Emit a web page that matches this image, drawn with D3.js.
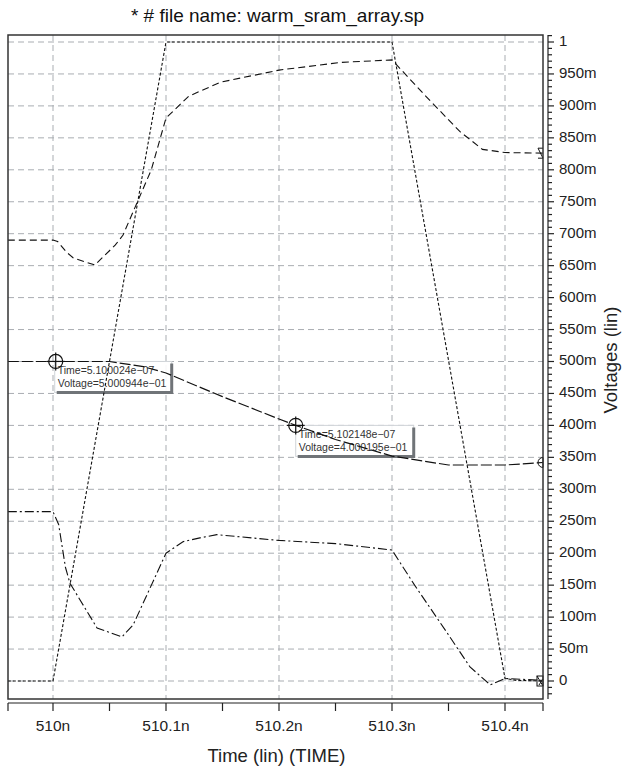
<!DOCTYPE html>
<html>
<head>
<meta charset="utf-8">
<script src="https://cdn.jsdelivr.net/npm/d3@7"></script>
<style>
  body { margin: 0; background: #fff; }
  svg { display: block; font-family: "Liberation Sans", Arial, sans-serif; }
</style>
</head>
<body>
<div id="chart"></div>
<script>
// time in ns, voltage in V
const xTicksMajor = [510.0, 510.1, 510.2, 510.3, 510.4];
const xTickLabels = ["510n", "510.1n", "510.2n", "510.3n", "510.4n"];
const xTicksMinor = [510.05, 510.15, 510.25, 510.35];
const yTicks = d3.range(0, 21).map(i => i / 20);
const yTickLabels = ["0", "50m", "100m", "150m", "200m", "250m", "300m", "350m", "400m", "450m",
  "500m", "550m", "600m", "650m", "700m", "750m", "800m", "850m", "900m", "950m", "1"];

// short-dash trace (input pulse)
const tA = [509.96, 510.0, 510.1, 510.3, 510.4, 510.41, 510.434];
const vA = [0, 0, 1, 1, 0.004, 0.001, 0.0];

// dashed trace
const tB = [509.96, 510.0, 510.004, 510.012, 510.018, 510.037, 510.055, 510.062, 510.087, 510.1,
  510.12, 510.148, 510.2, 510.254, 510.3, 510.33, 510.36, 510.38, 510.4, 510.434];
const vB = [0.690, 0.690, 0.688, 0.671, 0.662, 0.651, 0.682, 0.698, 0.800, 0.881,
  0.915, 0.937, 0.956, 0.968, 0.972, 0.915, 0.860, 0.832, 0.827, 0.826];

// long-dash trace (with cursors)
const tC = [509.96, 510.0, 510.05, 510.08, 510.1, 510.15, 510.2, 510.2148, 510.25, 510.3, 510.35, 510.4, 510.434];
const vC = [0.500, 0.500, 0.500, 0.492, 0.482, 0.445, 0.410, 0.400, 0.378, 0.352, 0.338, 0.338, 0.342];

// dash-dot trace
const tD = [509.96, 510.0, 510.005, 510.011, 510.015, 510.039, 510.061, 510.071, 510.1, 510.115,
  510.13, 510.145, 510.2, 510.25, 510.3, 510.32, 510.347, 510.369, 510.387, 510.4, 510.434];
const vD = [0.265, 0.265, 0.245, 0.178, 0.153, 0.083, 0.069, 0.088, 0.200, 0.218,
  0.224, 0.229, 0.220, 0.215, 0.205, 0.150, 0.080, 0.022, -0.006, 0.004, 0.001];

// cursor readouts
const cursorTime = [510.0024, 510.2148];
const cursorVolt = [0.5000944, 0.4000195];
const cursorText = [
  ["Time=5.100024e\u221207", "Voltage=5.000944e\u221201"],
  ["Time=5.102148e\u221207", "Voltage=4.000195e\u221201"]
];

const width = 626, height = 769;
const box = { left: 8, right: 543, top: 35, bottom: 699 };

const svg = d3.select("#chart").append("svg")
  .attr("width", width).attr("height", height);

const x = d3.scaleLinear()
  .domain([510 - 45 / 1130, 510 + 490 / 1130])
  .range([box.left, box.right]);
const y = d3.scaleLinear()
  .domain([-18 / 639, 1 + 7 / 639])
  .range([box.bottom, box.top]);

svg.append("defs").append("clipPath").attr("id", "clip")
  .append("rect")
  .attr("x", box.left).attr("y", box.top)
  .attr("width", box.right - box.left).attr("height", box.bottom - box.top);

// title
svg.append("text")
  .attr("x", (box.left + box.right) / 2 + 2).attr("y", 17)
  .attr("text-anchor", "middle").attr("dominant-baseline", "middle")
  .attr("font-size", 19).attr("fill", "#111")
  .text("* # file name: warm_sram_array.sp");

// grid
const grid = svg.append("g").attr("stroke", "#a9adb2").attr("stroke-width", 1).attr("stroke-dasharray", "6,4");
xTicksMajor.forEach(t => {
  grid.append("line").attr("x1", x(t)).attr("x2", x(t)).attr("y1", box.top).attr("y2", box.bottom);
});
yTicks.forEach(v => {
  grid.append("line").attr("x1", box.left).attr("x2", box.right).attr("y1", y(v)).attr("y2", y(v));
});

// cursor readout boxes (drawn under traces)
const boxW = [117, 118], boxH = 31;
cursorTime.forEach((t, i) => {
  const bx = x(t) - (i === 0 ? 1 : 0), by = y(cursorVolt[i]);
  const g = svg.append("g");
  g.append("rect").attr("x", bx).attr("y", by).attr("width", boxW[i]).attr("height", boxH)
    .attr("fill", "#fff").attr("fill-opacity", 0.9).attr("stroke", "#d0d4d8").attr("stroke-width", 1);
  g.append("path")
    .attr("d", `M${bx + 2},${by + boxH} H${bx + boxW[i]} V${by + 2}`)
    .attr("fill", "none").attr("stroke", "#707478").attr("stroke-width", 3);
  cursorText[i].forEach((s, j) => {
    g.append("text").attr("x", bx + 3).attr("y", by + 10 + j * 13)
      .attr("dominant-baseline", "middle").attr("font-size", 10.5).attr("fill", "#333")
      .text(s);
  });
});

// traces
const line = d3.line().x(d => x(d[0])).y(d => y(d[1]));
const traces = svg.append("g").attr("clip-path", "url(#clip)").attr("fill", "none").attr("stroke", "#111");
const series = [
  { t: tA, v: vA, dash: "3,2", w: 1.1 },
  { t: tB, v: vB, dash: "7,4", w: 1.1 },
  { t: tC, v: vC, dash: "11,3", w: 1.2 },
  { t: tD, v: vD, dash: "9,3,2,3", w: 1.1 }
];
series.forEach(s => {
  traces.append("path")
    .attr("d", line(d3.zip(s.t, s.v)))
    .attr("stroke-dasharray", s.dash).attr("stroke-width", s.w);
});

// cursor crosshair markers
cursorTime.forEach((t, i) => {
  const cx = x(t), cy = y(cursorVolt[i]);
  const m = svg.append("g").attr("stroke", "#111").attr("fill", "none").attr("stroke-width", 1.2);
  m.append("circle").attr("cx", cx).attr("cy", cy).attr("r", 7);
  m.append("line").attr("x1", cx - 9).attr("x2", cx + 9).attr("y1", cy).attr("y2", cy);
  m.append("line").attr("x1", cx).attr("x2", cx).attr("y1", cy - 9).attr("y2", cy + 9);
});

// end markers on right edge
const endG = svg.append("g").attr("stroke", "#111").attr("fill", "none").attr("stroke-width", 1);
const yb = y(vB[vB.length - 1]);
endG.append("path").attr("d", `M${box.right},${yb - 5} L${box.right - 5},${yb - 5} L${box.right},${yb + 5} L${box.right - 5},${yb + 5}`);
const yc = y(vC[vC.length - 1]);
endG.append("path").attr("d", d3.arc()({ innerRadius: 0, outerRadius: 5, startAngle: Math.PI, endAngle: 2 * Math.PI }))
  .attr("transform", `translate(${box.right},${yc})`);
const yd = y(vA[vA.length - 1]);
endG.append("rect").attr("x", box.right - 6).attr("y", yd - 5).attr("width", 6).attr("height", 10);
endG.append("path").attr("d", `M${box.right - 6},${yd - 5} L${box.right},${yd + 5} M${box.right},${yd - 2} L${box.right - 4},${yd + 4}`);

// plot frame
svg.append("rect")
  .attr("x", box.left).attr("y", box.top)
  .attr("width", box.right - box.left).attr("height", box.bottom - box.top)
  .attr("fill", "none").attr("stroke", "#333").attr("stroke-width", 1.5);

// x axis (below frame)
const xAxisY = 703;
const xa = svg.append("g").attr("stroke", "#222").attr("stroke-width", 1.2);
xa.append("line").attr("x1", box.left).attr("x2", box.right).attr("y1", xAxisY).attr("y2", xAxisY);
[x.domain()[0], ...xTicksMajor, ...xTicksMinor, x.domain()[1]].forEach(t => {
  xa.append("line").attr("x1", x(t)).attr("x2", x(t)).attr("y1", xAxisY).attr("y2", xAxisY + 8);
});
xTicksMajor.forEach((t, i) => {
  svg.append("text").attr("x", x(t)).attr("y", 727)
    .attr("text-anchor", "middle").attr("dominant-baseline", "middle")
    .attr("font-size", 15.5).attr("fill", "#222").text(xTickLabels[i]);
});
svg.append("text").attr("x", (box.left + box.right) / 2 + 1).attr("y", 757)
  .attr("text-anchor", "middle").attr("dominant-baseline", "middle")
  .attr("font-size", 18.5).attr("fill", "#222").text("Time (lin) (TIME)");

// y axis on the right
const yAxisX = 548;
const ya = svg.append("g").attr("stroke", "#222").attr("stroke-width", 1.2);
ya.append("line").attr("x1", yAxisX).attr("x2", yAxisX).attr("y1", box.top).attr("y2", box.bottom);
d3.range(-2, 102).forEach(k => {
  const v = k / 100;
  if (y(v) < box.top || y(v) > box.bottom) return;
  const major = k % 5 === 0;
  ya.append("line").attr("x1", yAxisX).attr("x2", yAxisX + (major ? 6 : 4))
    .attr("y1", y(v)).attr("y2", y(v));
});
yTicks.forEach((v, i) => {
  svg.append("text").attr("x", 559).attr("y", y(v))
    .attr("dominant-baseline", "middle").attr("font-size", 15).attr("fill", "#222")
    .text(yTickLabels[i]);
});
svg.append("text")
  .attr("transform", `translate(612,${(box.top + box.bottom) / 2 - 7}) rotate(-90)`)
  .attr("text-anchor", "middle").attr("dominant-baseline", "middle")
  .attr("font-size", 18.5).attr("fill", "#222").text("Voltages (lin)");
</script>
</body>
</html>
